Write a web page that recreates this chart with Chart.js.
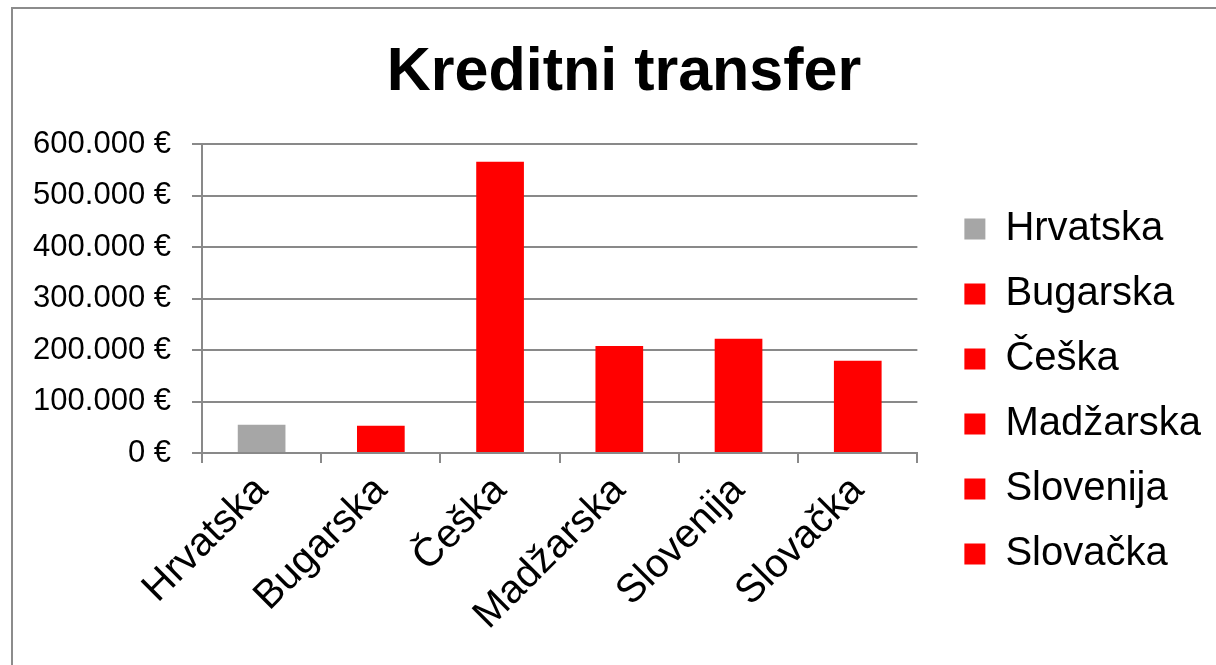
<!DOCTYPE html>
<html>
<head>
<meta charset="utf-8">
<script src="https://cdn.jsdelivr.net/npm/chart.js@4.4.0/dist/chart.umd.min.js"></script>
<style>
  html, body { margin: 0; padding: 0; background: #fff; }
  #wrap { width: 1216px; height: 665px; }
</style>
</head>
<body>
<div id="wrap"><canvas id="kreditni"></canvas></div>
<script>
const countries = ['Hrvatska', 'Bugarska', 'Češka', 'Madžarska', 'Slovenija', 'Slovačka'];
const amounts = [55000, 53000, 566000, 208000, 222000, 179000];
const barColors = ['#a6a6a6', '#ff0000', '#ff0000', '#ff0000', '#ff0000', '#ff0000'];
const yTicks = [0, 100000, 200000, 300000, 400000, 500000, 600000];

const axisGray = '#898989';
const font = 'Liberation Sans';

function euro(v) {
  return String(v).replace(/\B(?=(\d{3})+(?!\d))/g, '.') + ' €';
}

// outer frame like the spreadsheet chart object
const framePlugin = {
  id: 'frame',
  beforeDraw(chart) {
    const ctx = chart.ctx;
    ctx.save();
    ctx.strokeStyle = '#8c8c8c';
    ctx.lineWidth = 2;
    ctx.strokeRect(12, 8, 1400, 900);
    ctx.restore();
  }
};

// title centred on the whole frame, legend pushed right and down
const nudge = {
  id: 'nudge',
  afterLayout(chart) {
    const t = chart.titleBlock;
    const tdx = 624 - (t.left + t.right) / 2;
    t.left += tdx;
    t.right += tdx;
    const lg = chart.legend;
    const dx = chart.chartArea.right + 47 - (lg.left + 25);
    lg.left += dx;
    lg.right += dx;
    lg.top += 59;
    lg.bottom += 59;
  }
};

setup();

function setup() {
  const ctx = document.getElementById('kreditni').getContext('2d');
  new Chart(ctx, {
    type: 'bar',
    data: {
      labels: countries,
      datasets: [
        {
          label: 'Kreditni transfer',
          data: amounts,
          backgroundColor: barColors,
          borderWidth: 0,
          barPercentage: 0.4,
          categoryPercentage: 1
        }
      ]
    },
    options: {
      responsive: true,
      maintainAspectRatio: false,
      animation: false,
      layout: { padding: { left: 20, right: 27, top: 0, bottom: 0 } },
      plugins: {
        tooltip: { enabled: false },
        title: {
          display: true,
          text: 'Kreditni transfer',
          color: '#000',
          font: { family: font, size: 61, weight: 'bold' },
          padding: { top: 37, bottom: 34 }
        },
        legend: {
          position: 'right',
          labels: {
            color: '#000',
            font: { family: font, size: 40 },
            boxWidth: 21,
            boxHeight: 21,
            padding: 25,
            generateLabels: () => countries.map((c, i) => ({
              text: c,
              fillStyle: barColors[i],
              strokeStyle: barColors[i],
              lineWidth: 0,
              hidden: false,
              index: i
            }))
          }
        }
      },
      scales: {
        x: {
          grid: {
            offset: true,
            drawOnChartArea: false,
            drawTicks: true,
            tickLength: 10,
            color: axisGray,
            lineWidth: 2
          },
          border: { color: axisGray, width: 2 },
          ticks: {
            color: '#000',
            font: { family: font, size: 40 },
            maxRotation: 45,
            minRotation: 45,
            padding: 4
          },
          afterFit(scale) { scale.height = 212; }
        },
        y: {
          min: 0,
          max: 600000,
          afterBuildTicks(scale) { scale.ticks = yTicks.map(v => ({ value: v })); },
          grid: {
            color: axisGray,
            lineWidth: 2,
            tickLength: 10
          },
          border: { color: axisGray, width: 2 },
          ticks: {
            color: '#000',
            font: { family: font, size: 31 },
            padding: 21,
            callback: v => euro(v)
          },
          afterFit(scale) { scale.width = 182; }
        }
      }
    },
    plugins: [framePlugin, nudge]
  });
}
</script>
</body>
</html>
